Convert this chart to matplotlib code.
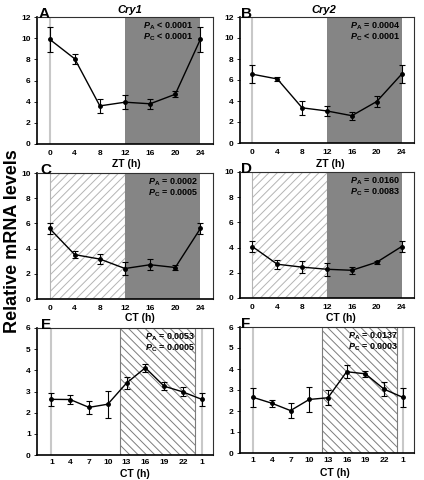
import matplotlib
matplotlib.use('Agg')
import matplotlib.pyplot as plt
import numpy as np

plt.rcParams['font.family'] = ['Liberation Sans', 'DejaVu Sans']
plt.rcParams['font.weight'] = 'bold'
plt.rcParams['mathtext.fontset'] = 'custom'
plt.rcParams['mathtext.it'] = 'Liberation Sans:italic:bold'
plt.rcParams['mathtext.rm'] = 'Liberation Sans:bold'
plt.rcParams['mathtext.bf'] = 'Liberation Sans:bold'
plt.rcParams['hatch.linewidth'] = 0.7

# time points
zt = [0, 4, 8, 12, 16, 20, 24]
ct = [1, 4, 7, 10, 13, 16, 19, 22, 25]
zt_labels = ['0', '4', '8', '12', '16', '20', '24']
ct_labels = ['1', '4', '7', '10', '13', '16', '19', '22', '1']

# Cry1 / Cry2, LD (ZT)
cry1_ld = [9.9, 8.05, 3.6, 3.95, 3.8, 4.7, 9.9]
cry1_ld_err = [1.2, 0.5, 0.66, 0.65, 0.45, 0.3, 1.2]
cry2_ld = [6.55, 6.1, 3.35, 3.05, 2.6, 3.95, 6.55]
cry2_ld_err = [0.85, 0.18, 0.68, 0.5, 0.37, 0.55, 0.85]

# Cry1 / Cry2, DD (CT)
cry1_dd = [5.6, 3.52, 3.17, 2.42, 2.72, 2.5, 5.6]
cry1_dd_err = [0.42, 0.27, 0.4, 0.5, 0.45, 0.17, 0.42]
cry2_dd = [4.08, 2.68, 2.45, 2.28, 2.2, 2.84, 4.08]
cry2_dd_err = [0.44, 0.35, 0.5, 0.53, 0.27, 0.13, 0.44]

# Cry1 / Cry2, shifted CT series
cry1_ct = [2.63, 2.62, 2.25, 2.4, 3.4, 4.12, 3.25, 2.98, 2.63]
cry1_ct_err = [0.3, 0.22, 0.3, 0.63, 0.3, 0.19, 0.19, 0.21, 0.3]
cry2_ct = [2.65, 2.37, 2.02, 2.55, 2.63, 3.87, 3.77, 3.04, 2.65]
cry2_ct_err = [0.44, 0.17, 0.37, 0.6, 0.35, 0.3, 0.15, 0.32, 0.44]

W, H = 424, 480
fig = plt.figure(figsize=(W / 100, H / 100), dpi=100)


def rect(l, r, t, b):
    return [l / W, 1 - b / H, (r - l) / W, (b - t) / H]


def style(ax, ymax, ystep, xpad):
    ax.set_ylim(0, ymax)
    ax.set_yticks(np.arange(0, ymax + 0.01, ystep))
    for s in ['top', 'right']:
        ax.spines[s].set_linewidth(0.8)
        ax.spines[s].set_color('#303030')
    for s in ['left', 'bottom']:
        ax.spines[s].set_linewidth(1.2)
    ax.tick_params(axis='y', direction='out', length=2.5, width=0.6, labelsize=6, pad=2)
    ax.tick_params(axis='x', length=0, labelsize=6, pad=xpad)
    for lab in ax.get_xticklabels() + ax.get_yticklabels():
        lab.set_fontweight('bold')


def series(ax, x, y, e):
    ax.errorbar(x, y, yerr=e, fmt='-o', color='black', ms=2.5, lw=1,
                capsize=2, elinewidth=0.8, capthick=0.8, zorder=3)


def ptext(ax, xf, pa, pc, y1=0.93, y2=0.84):
    ax.text(xf, y1, r'$\mathit{P}_\mathrm{A}$' + pa, transform=ax.transAxes,
            ha='right', va='center', fontsize=6.5, fontweight='bold', zorder=5)
    ax.text(xf, y2, r'$\mathit{P}_\mathrm{C}$' + pc, transform=ax.transAxes,
            ha='right', va='center', fontsize=6.5, fontweight='bold', zorder=5)


panels = [
    (rect(37, 213, 17, 144), 'A', zt, cry1_ld, cry1_ld_err, 12, 2, 'ld', ' < 0.0001', ' < 0.0001', 0.89),
    (rect(240, 414, 17, 143), 'B', zt, cry2_ld, cry2_ld_err, 12, 2, 'ld', ' = 0.0004', ' < 0.0001', 0.92),
    (rect(37, 213, 173, 299), 'C', zt, cry1_dd, cry1_dd_err, 10, 2, 'dd', ' = 0.0002', ' = 0.0005', 0.915),
    (rect(240, 414, 172, 298), 'D', zt, cry2_dd, cry2_dd_err, 10, 2, 'dd', ' = 0.0160', ' = 0.0083', 0.92),
    (rect(37, 213, 328, 455), 'E', ct, cry1_ct, cry1_ct_err, 6, 1, 'ct', ' = 0.0053', ' = 0.0005', 0.90),
    (rect(240, 414, 327, 453), 'F', ct, cry2_ct, cry2_ct_err, 6, 1, 'ct', ' = 0.0137', ' = 0.0003', 0.91),
]

for r, letter, x, y, e, ymax, ystep, kind, pa, pc, xf in panels:
    ax = fig.add_axes(r)
    if kind == 'ld':
        ax.axvspan(12, 24, color='#858585', lw=0, zorder=0)
        ax.axvline(0, color='#c8c8c8', lw=1.5, zorder=0.5)
        ax.set_xlim(-2, 26)
        ax.set_xticks(zt)
        ax.set_xticklabels(zt_labels)
    elif kind == 'dd':
        ax.axvspan(0, 12, facecolor='white', edgecolor='#b4b4b4', hatch='////', lw=0.8, zorder=0)
        ax.axvspan(12, 24, color='#858585', lw=0, zorder=0)
        ax.set_xlim(-2, 26)
        ax.set_xticks(zt)
        ax.set_xticklabels(zt_labels)
    else:
        ax.axvspan(12, 24, facecolor='white', edgecolor='#7c7c7c', hatch='\\\\\\\\', lw=0.8, zorder=0)
        ax.axvline(1, color='#c8c8c8', lw=1.5, zorder=0.5)
        ax.axvline(25, color='#c8c8c8', lw=1.5, zorder=0.5)
        ax.set_xlim(-1.3 if letter == 'E' else -1.1, 26.8)
        ax.set_xticks(ct)
        ax.set_xticklabels(ct_labels)
    series(ax, x, y, e)
    style(ax, ymax, ystep, 3 if kind == 'ct' else 4)
    ptext(ax, xf, pa, pc)

# panel letters
letters = [('A', 39, 18.5), ('B', 241, 18.5), ('C', 40, 174), ('D', 241, 173),
           ('E', 41, 329), ('F', 241, 328)]
for t, px, py in letters:
    fig.text(px / W, 1 - py / H, t, fontsize=11, fontweight='bold', va='baseline', ha='left')

# gene titles
fig.text(130 / W, 1 - 13 / H, 'Cry1', fontsize=8, fontweight='bold', style='italic', ha='center', va='baseline')
fig.text(324 / W, 1 - 13 / H, 'Cry2', fontsize=8, fontweight='bold', style='italic', ha='center', va='baseline')

# axis labels
xlabs = [('ZT (h)', 126, 167), ('ZT (h)', 330, 167), ('CT (h)', 140, 321),
         ('CT (h)', 341, 321), ('CT (h)', 135, 477), ('CT (h)', 335, 476)]
for t, px, py in xlabs:
    fig.text(px / W, 1 - py / H, t, fontsize=7.5, fontweight='bold', ha='center', va='baseline')

fig.text(13 / W, 1 - 241 / H, 'Relative mRNA levels', rotation=90, fontsize=13,
         fontweight='bold', ha='center', va='center')

plt.savefig('out.png', dpi=100)
